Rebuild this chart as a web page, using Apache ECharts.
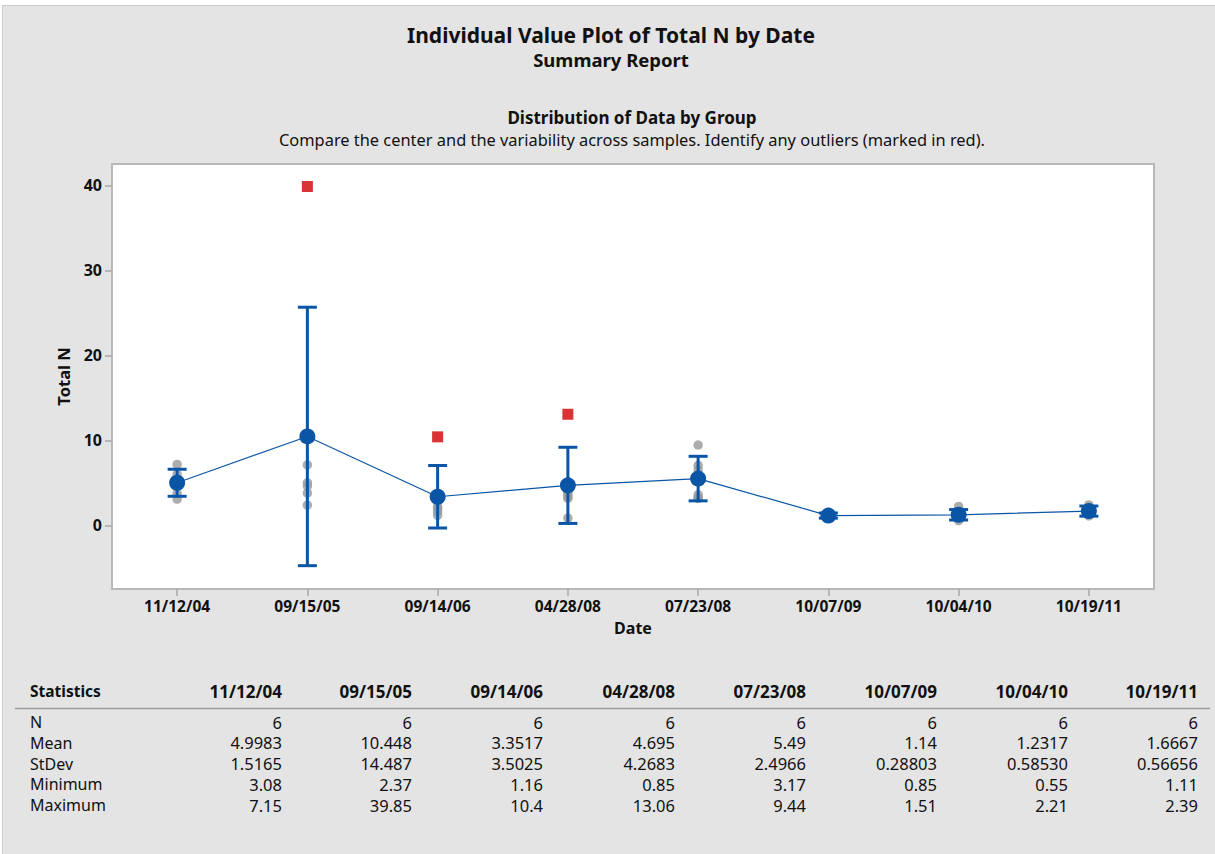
<!DOCTYPE html>
<html>
<head>
<meta charset="utf-8">
<script src="https://cdn.jsdelivr.net/npm/echarts@6/dist/echarts.min.js"></script>
<style>
html,body{margin:0;padding:0;background:#fff;}
#chart{width:1215px;height:854px;}
</style>
</head>
<body>
<div id="chart"></div>
<script>
// ---- data ----
const dates = ['11/12/04','09/15/05','09/14/06','04/28/08','07/23/08','10/07/09','10/04/10','10/19/11'];
const g1 = [7.15, 6.0, 5.2, 4.8, 3.76, 3.08];
const g2 = [7.1, 5.0, 4.6, 3.77, 2.37];
const g3 = [2.8, 2.2, 1.95, 1.6, 1.16];
const g4 = [4.0, 3.7, 3.4, 3.16, 0.85];
const g5 = [9.44, 7.05, 6.5, 3.6, 3.18, 3.17];
const g6 = [1.51, 1.2, 1.15, 1.1, 1.03, 0.85];
const g7 = [2.21, 1.3, 1.2, 1.1, 1.03, 0.55];
const g8 = [2.39, 1.8, 1.7, 1.55, 1.45, 1.11];
// outliers (marked in red): [date index, value]
const outliers = [[1, 39.85], [2, 10.4], [3, 13.06]];
// summary statistics
const statN = [6, 6, 6, 6, 6, 6, 6, 6];
const statMean = ['4.9983','10.448','3.3517','4.695','5.49','1.14','1.2317','1.6667'];
const statStDev = ['1.5165','14.487','3.5025','4.2683','2.4966','0.28803','0.58530','0.56656'];
const statMin = ['3.08','2.37','1.16','0.85','3.17','0.85','0.55','1.11'];
const statMax = ['7.15','39.85','10.4','13.06','9.44','1.51','2.21','2.39'];
const yTicks = [0, 10, 20, 30, 40];

// ---- derived ----
const groups = [g1, g2, g3, g4, g5, g6, g7, g8];
const pointData = [];
groups.forEach((g, i) => g.forEach(v => pointData.push([i, v])));
const tCrit = 2.5706; // t(0.975, df=5)
const ciData = dates.map((d, i) => {
  const m = parseFloat(statMean[i]), s = parseFloat(statStDev[i]);
  const h = tCrit * s / Math.sqrt(statN[i]);
  return [i, m - h, m + h];
});
const meanData = dates.map((d, i) => [i, parseFloat(statMean[i])]);

const FONT = 'Noto Sans';
const chart = echarts.init(document.getElementById('chart'), null, {renderer: 'svg'});

// table graphics
const colX = [282, 412, 543, 675, 806, 937, 1068, 1198];
const rowY = [722, 742.8, 763.6, 784.4, 805.2];
const rowNames = ['N', 'Mean', 'StDev', 'Minimum', 'Maximum'];
const rowVals = [statN.map(String), statMean, statStDev, statMin, statMax];
const tableEls = [];
tableEls.push({type:'text', x:30, y:691, style:{text:'Statistics', font:'bold 15.5px "'+FONT+'"', fill:'#111', verticalAlign:'middle'}});
dates.forEach((d, i) => {
  tableEls.push({type:'text', x: colX[i], y: 691, style:{text:d, font:'bold 17px "'+FONT+'"', fill:'#111', align:'right', verticalAlign:'middle'}});
});
tableEls.push({type:'line', shape:{x1:15, y1:708.5, x2:1210, y2:708.5}, style:{stroke:'#9a9a9a', lineWidth:1.5}});
rowNames.forEach((r, j) => {
  tableEls.push({type:'text', x:30, y:rowY[j], style:{text:r, font:'16px "'+FONT+'"', fill:'#111', verticalAlign:'middle'}});
  rowVals[j].forEach((v, i) => {
    tableEls.push({type:'text', x: colX[i], y: rowY[j], style:{text:v, font:'16.5px "'+FONT+'"', fill:'#111', align:'right', verticalAlign:'middle'}});
  });
});

const option = {
  animation: false,
  backgroundColor: '#fff',
  graphic: [
    {type:'rect', z:-10, shape:{x:2.5, y:5.5, width:1215, height:860}, style:{fill:'#e4e4e4', stroke:'#cdcdcd', lineWidth:1}},
    {type:'text', x:611, y:35, style:{text:'Individual Value Plot of Total N by Date', font:'bold 21px "'+FONT+'"', fill:'#111', align:'center', verticalAlign:'middle'}},
    {type:'text', x:611, y:59, style:{text:'Summary Report', font:'bold 18.5px "'+FONT+'"', fill:'#111', align:'center', verticalAlign:'middle'}},
    {type:'text', x:632, y:117, style:{text:'Distribution of Data by Group', font:'bold 17px "'+FONT+'"', fill:'#111', align:'center', verticalAlign:'middle'}},
    {type:'text', x:632, y:139, style:{text:'Compare the center and the variability across samples. Identify any outliers (marked in red).', font:'16.4px "'+FONT+'"', fill:'#111', align:'center', verticalAlign:'middle'}},
    ...tableEls
  ],
  grid: {left:112, top:164, width:1042, height:425, show:true, backgroundColor:'#fff', borderColor:'#b8b8b8', borderWidth:2},
  xAxis: {
    type:'category', data: dates, boundaryGap:true,
    name:'Date', nameLocation:'middle', nameGap:31,
    nameTextStyle:{fontFamily:FONT, fontWeight:'bold', fontSize:16, color:'#111'},
    axisLine:{show:true, onZero:false, lineStyle:{color:'#b8b8b8', width:2}},
    axisTick:{show:true, alignWithLabel:true, length:7, lineStyle:{color:'#a8a8a8', width:1.5}},
    axisLabel:{fontFamily:FONT, fontWeight:'bold', fontSize:15.5, color:'#111', margin:9},
    splitLine:{show:false}
  },
  yAxis: {
    type:'value', min:-7.5, max:42.5,
    name:'Total N', nameLocation:'middle', nameGap:40, nameRotate:90,
    nameTextStyle:{fontFamily:FONT, fontWeight:'bold', fontSize:16.5, color:'#111'},
    axisLine:{show:true, onZero:false, lineStyle:{color:'#b8b8b8', width:2}},
    axisTick:{show:true, length:7, customValues: yTicks, lineStyle:{color:'#a8a8a8', width:1.5}},
    axisLabel:{fontFamily:FONT, fontWeight:'bold', fontSize:16, color:'#111', margin:10, customValues: yTicks},
    splitLine:{show:false}
  },
  series: [
    {
      type:'scatter', data: pointData, symbol:'circle', symbolSize:9.5,
      itemStyle:{color:'#999999'}, z:2
    },
    {
      type:'scatter', data: outliers, symbol:'rect', symbolSize:11,
      itemStyle:{color:'#d00000'}, z:2
    },
    {
      type:'custom', data: ciData, z:3,
      encode:{x:0, y:[1,2]},
      renderItem: function(params, api){
        const lo = api.coord([api.value(0), api.value(1)]);
        const hi = api.coord([api.value(0), api.value(2)]);
        const w = 9.5;
        const st = {stroke:'#0a55a5', lineWidth:3};
        return {type:'group', children:[
          {type:'line', shape:{x1:lo[0], y1:lo[1], x2:hi[0], y2:hi[1]}, style:st},
          {type:'line', shape:{x1:lo[0]-w, y1:lo[1], x2:lo[0]+w, y2:lo[1]}, style:st},
          {type:'line', shape:{x1:hi[0]-w, y1:hi[1], x2:hi[0]+w, y2:hi[1]}, style:st}
        ]};
      }
    },
    {
      type:'line', data: meanData, symbol:'circle', symbolSize:16, showSymbol:true,
      lineStyle:{color:'#0a55a5', width:1.2}, itemStyle:{color:'#0a55a5'}, z:4
    }
  ]
};
chart.setOption(option);
</script>
</body>
</html>
